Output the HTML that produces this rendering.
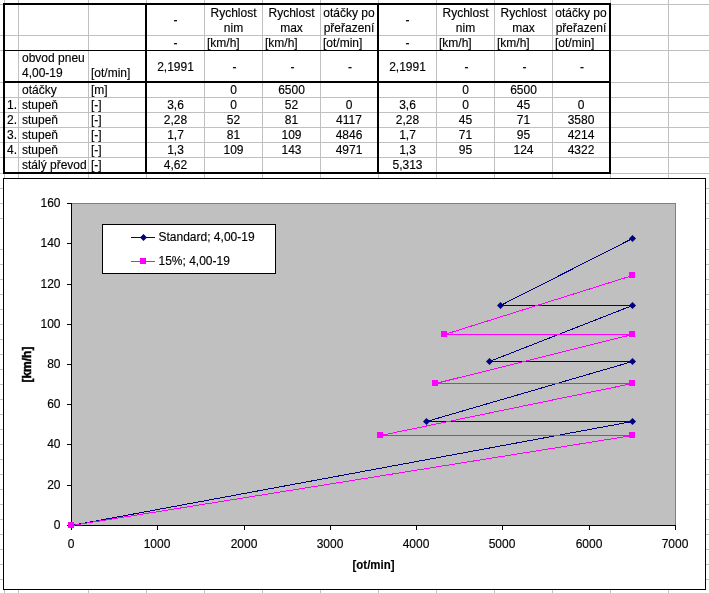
<!DOCTYPE html><html><head><meta charset="utf-8"><title>sheet</title><style>
html,body{margin:0;padding:0;background:#fff;}
body{width:709px;height:593px;position:relative;overflow:hidden;font-family:"Liberation Sans",sans-serif;font-size:12px;color:#000;line-height:15px;}
.g{position:absolute;background:#c0c0c0;}
.b{position:absolute;background:#000;}
.t{position:absolute;white-space:nowrap;will-change:transform;-webkit-text-stroke:0.15px #000;}
.c{text-align:center;}
.r{text-align:right;}
svg text{stroke:#000;stroke-width:0.15px}
</style></head><body>
<div class="g" style="left:4px;top:0;width:1px;height:593px"></div>
<div class="g" style="left:18px;top:0;width:1px;height:593px"></div>
<div class="g" style="left:88px;top:0;width:1px;height:593px"></div>
<div class="g" style="left:146px;top:0;width:1px;height:593px"></div>
<div class="g" style="left:204px;top:0;width:1px;height:593px"></div>
<div class="g" style="left:262px;top:0;width:1px;height:593px"></div>
<div class="g" style="left:320px;top:0;width:1px;height:593px"></div>
<div class="g" style="left:378px;top:0;width:1px;height:593px"></div>
<div class="g" style="left:436px;top:0;width:1px;height:593px"></div>
<div class="g" style="left:494px;top:0;width:1px;height:593px"></div>
<div class="g" style="left:552px;top:0;width:1px;height:593px"></div>
<div class="g" style="left:610px;top:0;width:1px;height:593px"></div>
<div class="g" style="left:668px;top:0;width:1px;height:593px"></div>
<div class="g" style="left:0;top:4px;width:709px;height:1px"></div>
<div class="g" style="left:0;top:35px;width:709px;height:1px"></div>
<div class="g" style="left:0;top:50px;width:709px;height:1px"></div>
<div class="g" style="left:0;top:82px;width:709px;height:1px"></div>
<div class="g" style="left:0;top:97px;width:709px;height:1px"></div>
<div class="g" style="left:0;top:112px;width:709px;height:1px"></div>
<div class="g" style="left:0;top:127px;width:709px;height:1px"></div>
<div class="g" style="left:0;top:142px;width:709px;height:1px"></div>
<div class="g" style="left:0;top:157px;width:709px;height:1px"></div>
<div class="g" style="left:0;top:173px;width:709px;height:1px"></div>
<div class="g" style="left:0;top:188px;width:709px;height:1px"></div>
<div class="g" style="left:0;top:203px;width:709px;height:1px"></div>
<div class="g" style="left:0;top:218px;width:709px;height:1px"></div>
<div class="g" style="left:0;top:249px;width:709px;height:1px"></div>
<div class="g" style="left:0;top:264px;width:709px;height:1px"></div>
<div class="g" style="left:0;top:279px;width:709px;height:1px"></div>
<div class="g" style="left:0;top:294px;width:709px;height:1px"></div>
<div class="g" style="left:0;top:309px;width:709px;height:1px"></div>
<div class="g" style="left:0;top:324px;width:709px;height:1px"></div>
<div class="g" style="left:0;top:339px;width:709px;height:1px"></div>
<div class="g" style="left:0;top:354px;width:709px;height:1px"></div>
<div class="g" style="left:0;top:369px;width:709px;height:1px"></div>
<div class="g" style="left:0;top:384px;width:709px;height:1px"></div>
<div class="g" style="left:0;top:399px;width:709px;height:1px"></div>
<div class="g" style="left:0;top:414px;width:709px;height:1px"></div>
<div class="g" style="left:0;top:429px;width:709px;height:1px"></div>
<div class="g" style="left:0;top:444px;width:709px;height:1px"></div>
<div class="g" style="left:0;top:459px;width:709px;height:1px"></div>
<div class="g" style="left:0;top:474px;width:709px;height:1px"></div>
<div class="g" style="left:0;top:489px;width:709px;height:1px"></div>
<div class="g" style="left:0;top:504px;width:709px;height:1px"></div>
<div class="g" style="left:0;top:519px;width:709px;height:1px"></div>
<div class="g" style="left:0;top:534px;width:709px;height:1px"></div>
<div class="g" style="left:0;top:549px;width:709px;height:1px"></div>
<div class="g" style="left:0;top:564px;width:709px;height:1px"></div>
<div class="g" style="left:0;top:579px;width:709px;height:1px"></div>
<div class="g" style="left:0;top:594px;width:709px;height:1px"></div>
<div class="b" style="left:3px;top:3px;width:608px;height:2px"></div>
<div class="b" style="left:3px;top:172px;width:608px;height:2px"></div>
<div class="b" style="left:3px;top:3px;width:2px;height:171px"></div>
<div class="b" style="left:609px;top:3px;width:2px;height:171px"></div>
<div class="b" style="left:145px;top:3px;width:2px;height:171px"></div>
<div class="b" style="left:377px;top:3px;width:2px;height:171px"></div>
<div class="b" style="left:3px;top:81px;width:608px;height:2px"></div>
<div class="b" style="left:3px;top:50px;width:608px;height:1px"></div>
<div class="t c" style="left:147px;top:13px;width:57px">-</div>
<div class="t c" style="left:379px;top:13px;width:57px">-</div>
<div class="t c" style="left:205px;top:6px;width:57px">Rychlost<br>nim</div>
<div class="t c" style="left:437px;top:6px;width:57px">Rychlost<br>nim</div>
<div class="t c" style="left:263px;top:6px;width:57px">Rychlost<br>max</div>
<div class="t c" style="left:495px;top:6px;width:57px">Rychlost<br>max</div>
<div class="t c" style="left:321px;top:6px;width:56px">otáčky po<br>přeřazení</div>
<div class="t c" style="left:553px;top:6px;width:56px">otáčky po<br>přeřazení</div>
<div class="t c" style="left:147px;top:36px;width:57px">-</div>
<div class="t c" style="left:379px;top:36px;width:57px">-</div>
<div class="t" style="left:207px;top:36px">[km/h]</div>
<div class="t" style="left:265px;top:36px">[km/h]</div>
<div class="t" style="left:439px;top:36px">[km/h]</div>
<div class="t" style="left:497px;top:36px">[km/h]</div>
<div class="t" style="left:323px;top:36px">[ot/min]</div>
<div class="t" style="left:555px;top:36px">[ot/min]</div>
<div class="t" style="left:22px;top:51px">obvod pneu<br>4,00-19</div>
<div class="t" style="left:91px;top:66px">[ot/min]</div>
<div class="t c" style="left:147px;top:60px;width:57px">2,1991</div>
<div class="t c" style="left:379px;top:60px;width:57px">2,1991</div>
<div class="t c" style="left:206px;top:60px;width:57px">-</div>
<div class="t c" style="left:264px;top:60px;width:57px">-</div>
<div class="t c" style="left:322px;top:60px;width:56px">-</div>
<div class="t c" style="left:438px;top:60px;width:57px">-</div>
<div class="t c" style="left:496px;top:60px;width:57px">-</div>
<div class="t c" style="left:554px;top:60px;width:56px">-</div>
<div class="t" style="left:22px;top:83px">otáčky</div>
<div class="t" style="left:91px;top:83px">[m]</div>
<div class="t c" style="left:205px;top:83px;width:57px">0</div>
<div class="t c" style="left:263px;top:83px;width:57px">6500</div>
<div class="t c" style="left:437px;top:83px;width:57px">0</div>
<div class="t c" style="left:495px;top:83px;width:57px">6500</div>
<div class="t r" style="left:5px;top:98px;width:12px">1.</div>
<div class="t" style="left:22px;top:98px">stupeň</div>
<div class="t" style="left:91px;top:98px">[-]</div>
<div class="t c" style="left:147px;top:98px;width:57px">3,6</div>
<div class="t c" style="left:205px;top:98px;width:57px">0</div>
<div class="t c" style="left:263px;top:98px;width:57px">52</div>
<div class="t c" style="left:321px;top:98px;width:56px">0</div>
<div class="t c" style="left:379px;top:98px;width:57px">3,6</div>
<div class="t c" style="left:437px;top:98px;width:57px">0</div>
<div class="t c" style="left:495px;top:98px;width:57px">45</div>
<div class="t c" style="left:553px;top:98px;width:56px">0</div>
<div class="t r" style="left:5px;top:113px;width:12px">2.</div>
<div class="t" style="left:22px;top:113px">stupeň</div>
<div class="t" style="left:91px;top:113px">[-]</div>
<div class="t c" style="left:147px;top:113px;width:57px">2,28</div>
<div class="t c" style="left:205px;top:113px;width:57px">52</div>
<div class="t c" style="left:263px;top:113px;width:57px">81</div>
<div class="t c" style="left:321px;top:113px;width:56px">4117</div>
<div class="t c" style="left:379px;top:113px;width:57px">2,28</div>
<div class="t c" style="left:437px;top:113px;width:57px">45</div>
<div class="t c" style="left:495px;top:113px;width:57px">71</div>
<div class="t c" style="left:553px;top:113px;width:56px">3580</div>
<div class="t r" style="left:5px;top:128px;width:12px">3.</div>
<div class="t" style="left:22px;top:128px">stupeň</div>
<div class="t" style="left:91px;top:128px">[-]</div>
<div class="t c" style="left:147px;top:128px;width:57px">1,7</div>
<div class="t c" style="left:205px;top:128px;width:57px">81</div>
<div class="t c" style="left:263px;top:128px;width:57px">109</div>
<div class="t c" style="left:321px;top:128px;width:56px">4846</div>
<div class="t c" style="left:379px;top:128px;width:57px">1,7</div>
<div class="t c" style="left:437px;top:128px;width:57px">71</div>
<div class="t c" style="left:495px;top:128px;width:57px">95</div>
<div class="t c" style="left:553px;top:128px;width:56px">4214</div>
<div class="t r" style="left:5px;top:143px;width:12px">4.</div>
<div class="t" style="left:22px;top:143px">stupeň</div>
<div class="t" style="left:91px;top:143px">[-]</div>
<div class="t c" style="left:147px;top:143px;width:57px">1,3</div>
<div class="t c" style="left:205px;top:143px;width:57px">109</div>
<div class="t c" style="left:263px;top:143px;width:57px">143</div>
<div class="t c" style="left:321px;top:143px;width:56px">4971</div>
<div class="t c" style="left:379px;top:143px;width:57px">1,3</div>
<div class="t c" style="left:437px;top:143px;width:57px">95</div>
<div class="t c" style="left:495px;top:143px;width:57px">124</div>
<div class="t c" style="left:553px;top:143px;width:56px">4322</div>
<div class="t" style="left:22px;top:158px">stálý převod</div>
<div class="t" style="left:91px;top:158px">[-]</div>
<div class="t c" style="left:147px;top:158px;width:57px">4,62</div>
<div class="t c" style="left:379px;top:158px;width:57px">5,313</div>
<div style="position:absolute;left:3px;top:178px;width:703px;height:412px;background:#fff;border:1px solid #000;box-sizing:border-box"></div>
<svg style="position:absolute;left:0;top:0;will-change:transform" width="709" height="593" viewBox="0 0 709 593" font-family="Liberation Sans, sans-serif" font-size="12" fill="#000">
<rect x="72" y="203" width="604" height="323" fill="#c0c0c0"/>
<rect x="72" y="203" width="604" height="1" fill="#808080"/>
<rect x="675" y="203" width="1" height="323" fill="#808080"/>
<rect x="71" y="203" width="1" height="323" fill="#000"/>
<rect x="71" y="525" width="605" height="1" fill="#000"/>
<rect x="67" y="525" width="5" height="1" fill="#000"/>
<text x="60.5" y="529.3" text-anchor="end">0</text>
<rect x="67" y="485" width="5" height="1" fill="#000"/>
<text x="60.5" y="489.3" text-anchor="end">20</text>
<rect x="67" y="444" width="5" height="1" fill="#000"/>
<text x="60.5" y="448.3" text-anchor="end">40</text>
<rect x="67" y="404" width="5" height="1" fill="#000"/>
<text x="60.5" y="408.3" text-anchor="end">60</text>
<rect x="67" y="364" width="5" height="1" fill="#000"/>
<text x="60.5" y="368.3" text-anchor="end">80</text>
<rect x="67" y="324" width="5" height="1" fill="#000"/>
<text x="60.5" y="328.3" text-anchor="end">100</text>
<rect x="67" y="284" width="5" height="1" fill="#000"/>
<text x="60.5" y="288.3" text-anchor="end">120</text>
<rect x="67" y="243" width="5" height="1" fill="#000"/>
<text x="60.5" y="247.3" text-anchor="end">140</text>
<rect x="67" y="203" width="5" height="1" fill="#000"/>
<text x="60.5" y="207.3" text-anchor="end">160</text>
<rect x="71" y="526" width="1" height="4" fill="#000"/>
<text x="71" y="547.6" text-anchor="middle">0</text>
<rect x="157" y="526" width="1" height="4" fill="#000"/>
<text x="157" y="547.6" text-anchor="middle">1000</text>
<rect x="244" y="526" width="1" height="4" fill="#000"/>
<text x="244" y="547.6" text-anchor="middle">2000</text>
<rect x="330" y="526" width="1" height="4" fill="#000"/>
<text x="330" y="547.6" text-anchor="middle">3000</text>
<rect x="416" y="526" width="1" height="4" fill="#000"/>
<text x="416" y="547.6" text-anchor="middle">4000</text>
<rect x="502" y="526" width="1" height="4" fill="#000"/>
<text x="502" y="547.6" text-anchor="middle">5000</text>
<rect x="589" y="526" width="1" height="4" fill="#000"/>
<text x="589" y="547.6" text-anchor="middle">6000</text>
<rect x="675" y="526" width="1" height="4" fill="#000"/>
<text x="675" y="547.6" text-anchor="middle">7000</text>
<text x="352.5" y="569" font-weight="bold" textLength="42" lengthAdjust="spacingAndGlyphs">[ot/min]</text>
<text transform="translate(30.6,364.6) rotate(-90)" text-anchor="middle" font-weight="bold" style="stroke-width:0.45px">[km/h]</text>
<polyline points="71.5,525.5 632.5,421.5 426.5,421.5 632.5,361.5 489.5,361.5 632.5,305.5 500.5,305.5 632.5,238.5" fill="none" stroke="#000080" stroke-width="1" shape-rendering="crispEdges"/>
<path d="M71.5 522.0l3.5 3.5l-3.5 3.5l-3.5 -3.5z" fill="#000080"/>
<path d="M632.5 418.0l3.5 3.5l-3.5 3.5l-3.5 -3.5z" fill="#000080"/>
<path d="M426.5 418.0l3.5 3.5l-3.5 3.5l-3.5 -3.5z" fill="#000080"/>
<path d="M632.5 358.0l3.5 3.5l-3.5 3.5l-3.5 -3.5z" fill="#000080"/>
<path d="M489.5 358.0l3.5 3.5l-3.5 3.5l-3.5 -3.5z" fill="#000080"/>
<path d="M632.5 302.0l3.5 3.5l-3.5 3.5l-3.5 -3.5z" fill="#000080"/>
<path d="M500.5 302.0l3.5 3.5l-3.5 3.5l-3.5 -3.5z" fill="#000080"/>
<path d="M632.5 235.0l3.5 3.5l-3.5 3.5l-3.5 -3.5z" fill="#000080"/>
<polyline points="71.5,525.5 632.5,435.5 380.5,435.5 632.5,383.5 435.5,383.5 632.5,334.5 444.5,334.5 632.5,275.5" fill="none" stroke="#ff00ff" stroke-width="1" shape-rendering="crispEdges"/>
<rect x="68" y="522" width="6" height="6" fill="#ff00ff"/>
<rect x="629" y="432" width="6" height="6" fill="#ff00ff"/>
<rect x="377" y="432" width="6" height="6" fill="#ff00ff"/>
<rect x="629" y="380" width="6" height="6" fill="#ff00ff"/>
<rect x="432" y="380" width="6" height="6" fill="#ff00ff"/>
<rect x="629" y="331" width="6" height="6" fill="#ff00ff"/>
<rect x="441" y="331" width="6" height="6" fill="#ff00ff"/>
<rect x="629" y="272" width="6" height="6" fill="#ff00ff"/>
<rect x="102.5" y="224.5" width="173" height="49" fill="#fff" stroke="#000" stroke-width="1"/>
<line x1="131" y1="237.5" x2="155" y2="237.5" stroke="#000080"/>
<path d="M143.5 234l3.5 3.5l-3.5 3.5l-3.5 -3.5z" fill="#000080"/>
<text x="158.5" y="240.7">Standard; 4,00-19</text>
<line x1="131" y1="261.5" x2="155" y2="261.5" stroke="#ff00ff"/>
<rect x="140" y="258" width="6" height="6" fill="#ff00ff"/>
<text x="158.5" y="264.7">15%; 4,00-19</text>
</svg>
</body></html>
